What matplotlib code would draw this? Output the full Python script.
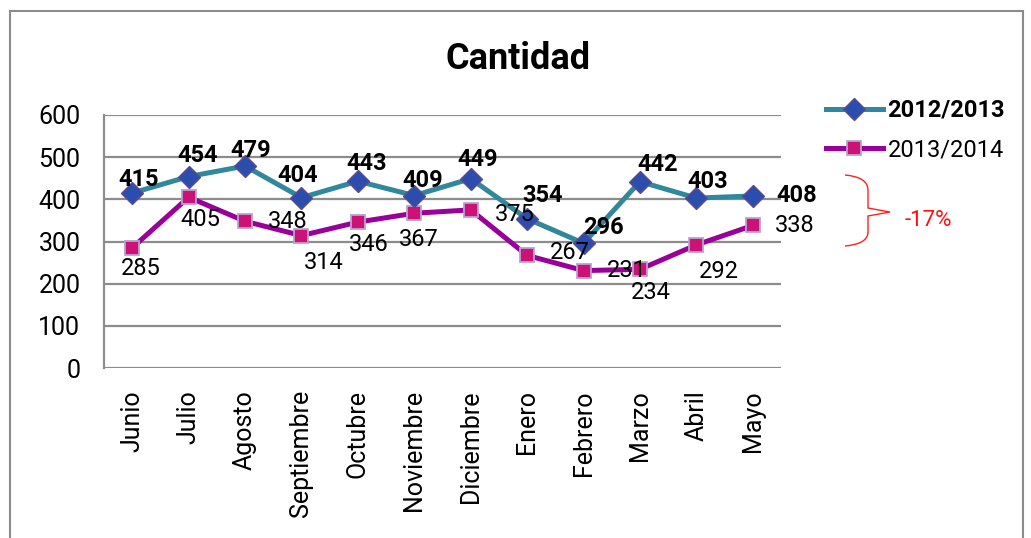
import matplotlib
matplotlib.use("Agg")
import matplotlib.pyplot as plt
from matplotlib import font_manager
from matplotlib.patches import Rectangle, PathPatch
from matplotlib.path import Path

names = {f.name for f in font_manager.fontManager.ttflist}
fam = ["Liberation Sans Narrow", "DejaVu Sans"] if "Liberation Sans Narrow" in names else ["Roboto", "DejaVu Sans"]
plt.rcParams['font.family'] = fam

months = ["Junio", "Julio", "Agosto", "Septiembre", "Octubre", "Noviembre",
          "Diciembre", "Enero", "Febrero", "Marzo", "Abril", "Mayo"]
s1_name = "2012/2013"
s2_name = "2013/2014"
s1 = [415, 454, 479, 404, 443, 409, 449, 354, 296, 442, 403, 408]
s2 = [285, 405, 348, 314, 346, 367, 375, 267, 231, 234, 292, 338]
yticks = [0, 100, 200, 300, 400, 500, 600]
change_label = "-17%"

# label offsets in points (style, not data)
off1 = [(5, 10), (6.5, 15), (4, 11), (-3, 16), (6, 13), (6, 11), (5, 14),
        (11, 16.5), (14, 11), (13, 12), (8, 12), (32, 0)]
off2 = [(6.5, -15), (8.5, -16), (31, 0), (16, -19.5), (8, -16), (3, -19), (32, -3),
        (31, 2), (31, 0), (8, -17), (16, -19), (30, 0)]

W, H = 1031, 538
fig = plt.figure(figsize=(W / 100, H / 100), dpi=100)
ax = fig.add_axes([104 / W, 1 - 368 / H, (781 - 104) / W, (368 - 115) / H])

x = list(range(len(months)))
ax.plot(x, s1, color="#31889C", lw=3.6, marker="D", ms=11, mfc="#2B4DAE",
        mec="#5E4A8E", mew=1.0, label=s1_name, zorder=4)
ax.plot(x, s2, color="#990099", lw=3.6, marker="s", ms=10, mfc="#CC1177",
        mec="#B9A2D2", mew=1.3, label=s2_name, zorder=3)

for i, v in enumerate(s1):
    ax.annotate(str(v), (i, v), xytext=off1[i], textcoords="offset points",
                ha="center", va="center", fontsize=17, fontweight="bold", color="black", zorder=6)
for i, v in enumerate(s2):
    ax.annotate(str(v), (i, v), xytext=off2[i], textcoords="offset points",
                ha="center", va="center", fontsize=17, color="black", zorder=6)

ax.set_xlim(-0.5, len(months) - 0.5)
ax.set_ylim(0, 600)
ax.set_yticks(yticks)
ax.set_yticklabels([str(t) for t in yticks], fontsize=18)
ax.set_xticks(x)
ax.set_xticklabels(months, rotation=90, fontsize=18)
ax.tick_params(axis="y", length=0, pad=17)
ax.tick_params(axis="x", length=0, pad=16)
ax.yaxis.grid(True, color="#8C8C8C", lw=1.6)
ax.set_axisbelow(True)
for sp in ["top", "right", "bottom"]:
    ax.spines[sp].set_visible(False)
ax.spines["left"].set_color("#8C8C8C")
ax.spines["left"].set_linewidth(1.6)

fig.text(518 / W, 1 - 59 / H, "Cantidad", ha="center", va="center",
         fontsize=26, fontweight="bold")

leg = fig.legend(loc="upper left", bbox_to_anchor=(826 / W, 1 - 99 / H), frameon=False,
                 fontsize=17, handlelength=2.4, labelspacing=0.68, handletextpad=0.2,
                 borderaxespad=0, borderpad=0)
leg.get_texts()[0].set_fontweight("bold")


def P(px, py):
    return (px / W, 1 - py / H)


p = Path([P(845, 175), P(868, 177), P(868, 190), P(868, 208),
          P(890, 212),
          P(868, 216), P(868, 232), P(868, 244), P(845, 246)],
         [Path.MOVETO, Path.CURVE3, Path.CURVE3, Path.LINETO,
          Path.LINETO,
          Path.LINETO, Path.LINETO, Path.CURVE3, Path.CURVE3])
fig.patches.append(PathPatch(p, fill=False, ec="#FF2020", lw=1.0, transform=fig.transFigure))
fig.text(928 / W, 1 - 221 / H, change_label, color="#FF1010", fontsize=16, ha="center", va="center")

fig.patches.append(Rectangle((10 / W, -0.05), (1023 - 10) / W, (1 - 11 / H) + 0.05,
                             fill=False, ec="#8C8C8C", lw=1.5, transform=fig.transFigure))

fig.savefig("out.png", dpi=100, facecolor="white")
